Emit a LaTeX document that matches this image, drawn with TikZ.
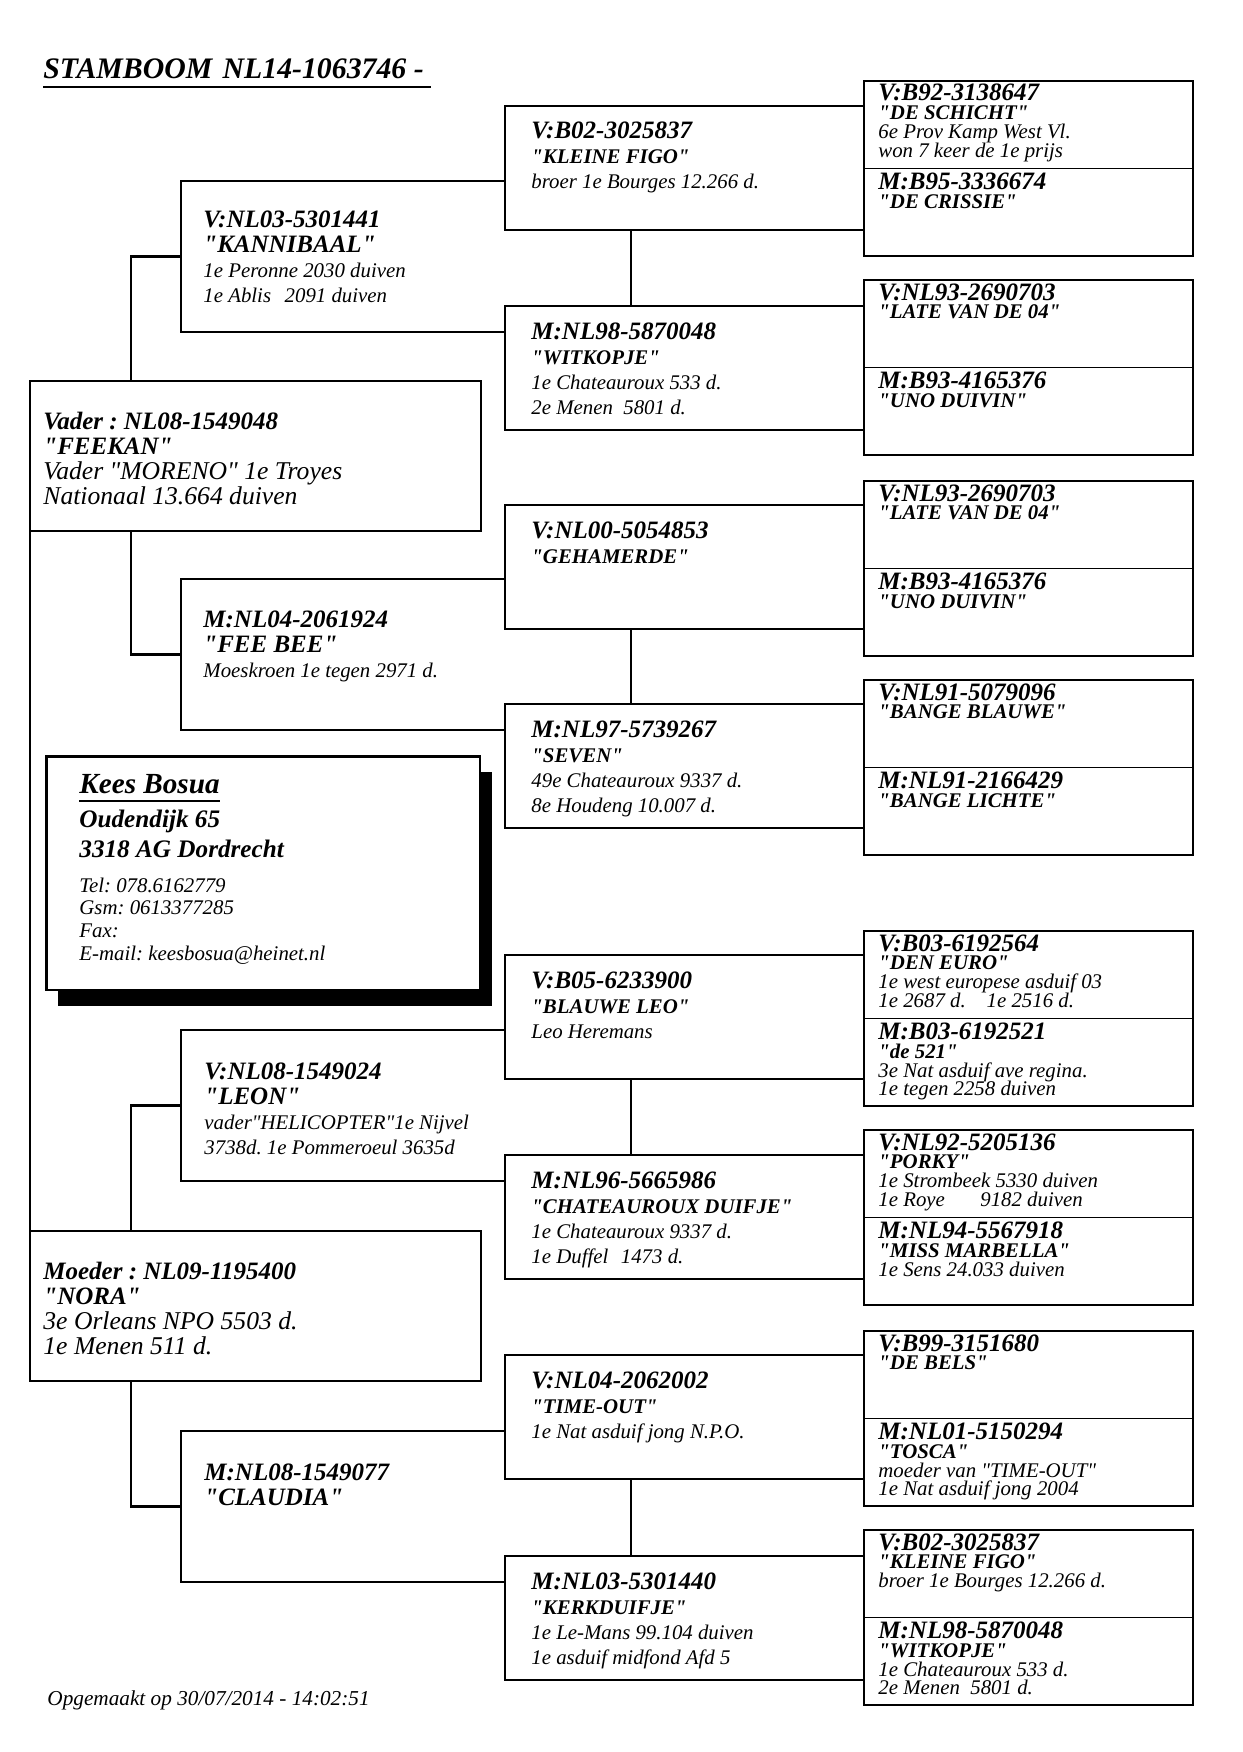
\documentclass[tikz,border=0pt]{standalone}
\usepackage{fontspec}
\setmainfont{Liberation Serif}
\usetikzlibrary{positioning}
\frenchspacing

\newcommand\bid[1]{{\fontsize{12}{12}\selectfont\bfseries #1}}
\newcommand\bnm[1]{{\fontsize{10}{10}\selectfont\bfseries #1}}
\newcommand\q[1]{\textquotedbl#1\textquotedbl}
\newcommand\regels[1]{\vtop{\halign{##\hfil\cr#1\crcr}}}

\begin{document}
\begin{tikzpicture}[x=0.48pt, y=-0.48pt,
  vak1/.style={draw, line width=1.3pt, anchor=north west, inner sep=0pt, outer sep=0pt, minimum width=216.5pt, minimum height=72pt},
  vak2/.style={anchor=north west, inner sep=0pt, outer sep=0pt, minimum width=155.5pt, minimum height=72.5pt},
  vak3/.style={draw, line width=1.2pt, anchor=north west, inner sep=0pt, outer sep=0pt, minimum width=172.3pt, minimum height=59.5pt},
  vak4/.style={draw, line width=0.8pt, anchor=north west, inner sep=0pt, outer sep=0pt, minimum width=157.9pt, minimum height=42pt},
  lijn/.style={line width=1.2pt},
  tekst/.style={anchor=base west, inner sep=0pt, font={\fontsize{10}{12}\selectfont\itshape}},
  tekst1/.style={tekst, font={\fontsize{12.3}{12}\selectfont\itshape}},
  tekst4/.style={tekst, font={\fontsize{10}{9}\selectfont\itshape\lineskiplimit=-20pt}}]
%definitions
\useasboundingbox (0,0) rectangle (1242,1752);

% titel
\node[anchor=base west, inner sep=0pt, font={\fontsize{14.3}{14}\selectfont\bfseries\itshape}] (titel) at (43,79) {STAMBOOM\hspace{5pt}NL14-1063746 -};
\draw[line width=0.9pt] ([shift={(0,8)}]titel.base west) -- ([shift={(7,8)}]titel.base east);

% ouders
\node[vak1] (vader) at (30,381) {};
\node[vak1] (moeder) at (30,1231) {};
\node[tekst1] (tvader) at ([shift={(13,48)}]vader.north west) {\regels{\bid{Vader : NL08-1549048}\cr\bid{\q{FEEKAN}}\cr Vader \q{MORENO} 1e Troyes\cr Nationaal 13.664 duiven}};
\node[tekst1] (tmoeder) at ([shift={(13,48)}]moeder.north west) {\regels{\bid{Moeder : NL09-1195400}\cr\bid{\q{NORA}}\cr 3e Orleans NPO 5503 d.\cr 1e Menen 511 d.}};
\draw[lijn] (vader.south west) -- (moeder.north west);

% grootouders
\node[vak2] (kann) at (181,181) {};
\node[vak2] (fee) at (181,579) {};
\node[vak2] (leon) at (181,1030) {};
\node[vak2] (claud) at (181,1431) {};
\foreach \n in {kann,fee,leon,claud}
  \draw[lijn] (\n.north east) -- (\n.north west) -- (\n.south west) -- (\n.south east);
\node[tekst] (tkann) at ([shift={(22,46)}]kann.north west) {\regels{\bid{V:NL03-5301441}\cr\bid{\q{KANNIBAAL}}\cr 1e Peronne 2030 duiven\cr 1e Ablis\hspace{6.5pt}2091 duiven}};
\node[tekst] (tfee) at ([shift={(22,48)}]fee.north west) {\regels{\bid{M:NL04-2061924}\cr\bid{\q{FEE BEE}}\cr Moeskroen 1e tegen 2971 d.}};
\node[tekst] (tleon) at ([shift={(23,49)}]leon.north west) {\regels{\bid{V:NL08-1549024}\cr\bid{\q{LEON}}\cr vader\q{HELICOPTER}1e Nijvel\cr 3738d. 1e Pommeroeul 3635d}};
\node[tekst] (tclaud) at ([shift={(23,49)}]claud.north west) {\regels{\bid{M:NL08-1549077}\cr\bid{\q{CLAUDIA}}}};
\draw[lijn] (kann.west) -| ([shift={(101,0)}]vader.north west);
\draw[lijn] ([shift={(101,0)}]vader.south west) |- (fee.west);
\draw[lijn] (leon.west) -| ([shift={(101,0)}]moeder.north west);
\draw[lijn] ([shift={(101,0)}]moeder.south west) |- (claud.west);

% overgrootouders
\foreach \y [count=\i] in {106,306,505,704,955,1155,1355,1556}
  \node[vak3] (gp\i) at (505,\y) {};
\foreach \a/\b in {1/2,3/4,5/6,7/8}
  \draw[line width=0.8pt] ([shift={(126,0)}]gp\a.south west) -- ([shift={(126,0)}]gp\b.north west);
\node[tekst] (tgp1) at ([shift={(26,33)}]gp1.north west) {\regels{\bid{V:B02-3025837}\cr\bnm{\q{KLEINE FIGO}}\cr broer 1e Bourges 12.266 d.}};
\node[tekst] (tgp2) at ([shift={(26,33)}]gp2.north west) {\regels{\bid{M:NL98-5870048}\cr\bnm{\q{WITKOPJE}}\cr 1e Chateauroux 533 d.\cr 2e Menen\hspace{5pt}5801 d.}};
\node[tekst] (tgp3) at ([shift={(26,33)}]gp3.north west) {\regels{\bid{V:NL00-5054853}\cr\bnm{\q{GEHAMERDE}}}};
\node[tekst] (tgp4) at ([shift={(26,33)}]gp4.north west) {\regels{\bid{M:NL97-5739267}\cr\bnm{\q{SEVEN}}\cr 49e Chateauroux 9337 d.\cr 8e Houdeng 10.007 d.}};
\node[tekst] (tgp5) at ([shift={(26,33)}]gp5.north west) {\regels{\bid{V:B05-6233900}\cr\bnm{\q{BLAUWE LEO}}\cr Leo Heremans}};
\node[tekst] (tgp6) at ([shift={(26,33)}]gp6.north west) {\regels{\bid{M:NL96-5665986}\cr\bnm{\q{CHATEAUROUX DUIFJE}}\cr 1e Chateauroux 9337 d.\cr 1e Duffel\hspace{6pt}1473 d.}};
\node[tekst] (tgp7) at ([shift={(26,33)}]gp7.north west) {\regels{\bid{V:NL04-2062002}\cr\bnm{\q{TIME-OUT}}\cr 1e Nat asduif jong N.P.O.}};
\node[tekst] (tgp8) at ([shift={(26,33)}]gp8.north west) {\regels{\bid{M:NL03-5301440}\cr\bnm{\q{KERKDUIFJE}}\cr 1e Le-Mans 99.104 duiven\cr 1e asduif midfond Afd 5}};

% betovergrootouders
\foreach \y [count=\i] in {81,280,481,680,931,1130,1331,1530} {
  \node[vak4] (ggv\i) at (864,\y) {};
  \node[vak4] (ggm\i) at (864,\y+87.5) {};
}
\node[tekst4] (tv1) at ([shift={(14,20)}]ggv1.north west) {\regels{\bid{V:B92-3138647}\cr\bnm{\q{DE SCHICHT}}\cr 6e Prov Kamp West Vl.\cr won 7 keer de 1e prijs}};
\node[tekst4] (tm1) at ([shift={(14,21)}]ggm1.north west) {\regels{\bid{M:B95-3336674}\cr\bnm{\q{DE CRISSIE}}}};
\node[tekst4] (tv2) at ([shift={(14,20)}]ggv2.north west) {\regels{\bid{V:NL93-2690703}\cr\bnm{\q{LATE VAN DE 04}}}};
\node[tekst4] (tm2) at ([shift={(14,21)}]ggm2.north west) {\regels{\bid{M:B93-4165376}\cr\bnm{\q{UNO DUIVIN}}}};
\node[tekst4] (tv3) at ([shift={(14,20)}]ggv3.north west) {\regels{\bid{V:NL93-2690703}\cr\bnm{\q{LATE VAN DE 04}}}};
\node[tekst4] (tm3) at ([shift={(14,21)}]ggm3.north west) {\regels{\bid{M:B93-4165376}\cr\bnm{\q{UNO DUIVIN}}}};
\node[tekst4] (tv4) at ([shift={(14,20)}]ggv4.north west) {\regels{\bid{V:NL91-5079096}\cr\bnm{\q{BANGE BLAUWE}}}};
\node[tekst4] (tm4) at ([shift={(14,21)}]ggm4.north west) {\regels{\bid{M:NL91-2166429}\cr\bnm{\q{BANGE LICHTE}}}};
\node[tekst4] (tv5) at ([shift={(14,20)}]ggv5.north west) {\regels{\bid{V:B03-6192564}\cr\bnm{\q{DEN EURO}}\cr 1e west europese asduif 03\cr 1e 2687 d.\hspace{10pt}1e 2516 d.}};
\node[tekst4] (tm5) at ([shift={(14,21)}]ggm5.north west) {\regels{\bid{M:B03-6192521}\cr\bnm{\q{de 521}}\cr 3e Nat asduif ave regina.\cr 1e tegen 2258 duiven}};
\node[tekst4] (tv6) at ([shift={(14,20)}]ggv6.north west) {\regels{\bid{V:NL92-5205136}\cr\bnm{\q{PORKY}}\cr 1e Strombeek 5330 duiven\cr 1e Roye\hspace{17pt}9182 duiven}};
\node[tekst4] (tm6) at ([shift={(14,21)}]ggm6.north west) {\regels{\bid{M:NL94-5567918}\cr\bnm{\q{MISS MARBELLA}}\cr 1e Sens 24.033 duiven}};
\node[tekst4] (tv7) at ([shift={(14,20)}]ggv7.north west) {\regels{\bid{V:B99-3151680}\cr\bnm{\q{DE BELS}}}};
\node[tekst4] (tm7) at ([shift={(14,21)}]ggm7.north west) {\regels{\bid{M:NL01-5150294}\cr\bnm{\q{TOSCA}}\cr moeder van \q{TIME-OUT}\cr 1e Nat asduif jong 2004}};
\node[tekst4] (tv8) at ([shift={(14,20)}]ggv8.north west) {\regels{\bid{V:B02-3025837}\cr\bnm{\q{KLEINE FIGO}}\cr broer 1e Bourges 12.266 d.}};
\node[tekst4] (tm8) at ([shift={(14,21)}]ggm8.north west) {\regels{\bid{M:NL98-5870048}\cr\bnm{\q{WITKOPJE}}\cr 1e Chateauroux 533 d.\cr 2e Menen\hspace{5pt}5801 d.}};

% kweker
\node[fill=black, anchor=north west, inner sep=0pt, minimum width=208.3pt, minimum height=112.3pt] (schaduw) at (58,772) {};
\node[draw, fill=white, line width=1.2pt, anchor=north west, inner sep=0pt, minimum width=208.3pt, minimum height=112.3pt] (kweker) at (45,755) {};
\node[anchor=base west, inner sep=0pt, font={\fontsize{14}{14}\selectfont\bfseries\itshape}] (knaam) at ([shift={(34,38)}]kweker.north west) {Kees Bosua};
\draw[line width=0.7pt] ([shift={(0,8)}]knaam.base west) -- ([shift={(0,8)}]knaam.base east);
\node[tekst, font={\fontsize{10}{11}\selectfont\itshape}] (kadres) at ([shift={(0,34)}]knaam.base west) {\regels{{\fontsize{12.1}{12}\selectfont\bfseries Oudendijk 65}\cr\noalign{\vskip3.4pt}{\fontsize{12.1}{12}\selectfont\bfseries 3318 AG Dordrecht}\cr\noalign{\vskip5.8pt}Tel: 078.6162779\cr Gsm: 0613377285\cr Fax:\cr E-mail: keesbosua@heinet.nl}};

% voet
\node[anchor=base west, inner sep=0pt, font={\fontsize{10.2}{10}\selectfont\itshape}] (voet) at (47,1705) {Opgemaakt op 30/07/2014 - 14:02:51};
\end{tikzpicture}
\end{document}
